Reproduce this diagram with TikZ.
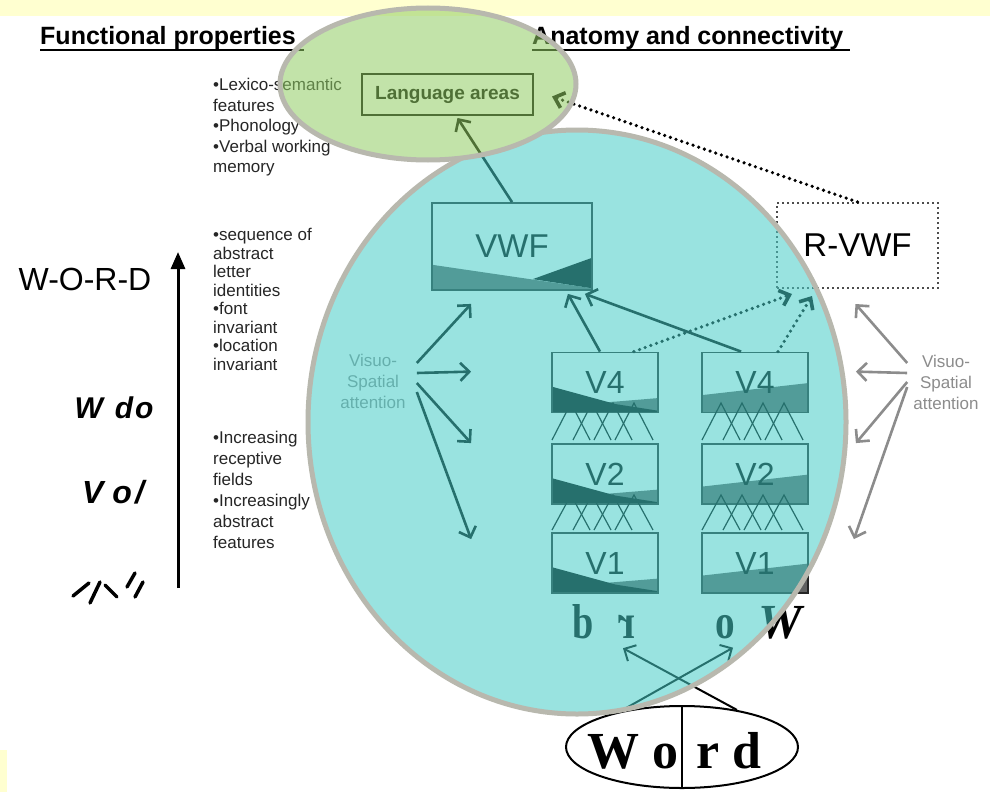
\documentclass[tikz,border=0pt]{standalone}
\usepackage{fontspec}
\usepackage{graphicx}
\usetikzlibrary{arrows.meta,shapes.geometric}
\setmainfont{Liberation Sans}
\newfontfamily\glyphfont{Liberation Serif}
\definecolor{bandyellow}{RGB}{255,255,208}
\definecolor{tealfill}{RGB}{70,205,200}
\definecolor{greenfill}{RGB}{145,205,100}
\definecolor{rimgray}{RGB}{184,184,174}
\newcommand{\fsz}[2]{\fontsize{#1}{#2}\selectfont}
% shaded bands at the foot of the area boxes (#1,#2 = top left corner)
\newcommand{\leftshading}[2]{%
  \begin{scope}[shift={(#1,#2)}, x=106pt, y=-60pt]
    \fill[black!62] (0.45,0.84) -- (1,0.76) -- (1,1) -- (0.45,1) -- cycle;
    \fill[black] (0,0.57) -- (0.6,0.86) -- (1,0.97) -- (1,1) -- (0,1) -- cycle;
  \end{scope}}
\newcommand{\rightshading}[2]{%
  \begin{scope}[shift={(#1,#2)}, x=106pt, y=-60pt]
    \fill[black!62] (0,0.71) -- (1,0.51) -- (1,1) -- (0,1) -- cycle;
  \end{scope}}
\newcommand{\vwfshading}[2]{%
  \begin{scope}[shift={(#1,#2)}, x=160pt, y=-87pt]
    \fill[black!62] (0,0.71) -- (1,0.98) -- (1,1) -- (0,1) -- cycle;
    \fill[black] (0.63,0.875) -- (1,0.63) -- (1,0.98) -- cycle;
  \end{scope}}

\tikzset{
  areabox/.style={draw=black!85, line width=1.8pt, minimum width=106pt, minimum height=60pt,
    inner sep=0pt, font=\fsz{32}{32}},
  note/.style={anchor=north west, align=left, inner sep=0pt, text=black!85},
  attn/.style={align=center, inner sep=0pt, font=\fsz{17}{21}, text=black!45},
  glyph/.style={inner sep=0pt, anchor=base, font=\glyphfont\bfseries\fsz{49}{49}},
  barb/.style={-{Straight Barb[length=9pt,width=18pt]}, line width=2.6pt},
  dotarrow/.style={-{Straight Barb[length=9pt,width=16pt]}, line width=3.6pt,
    dash pattern=on 0pt off 6pt, line cap=round},
}

\begin{document}
\begin{tikzpicture}[x=1pt, y=-1pt]
\fill[white] (0,0) rectangle (990,792);
\useasboundingbox (0,0) rectangle (990,792);
\fill[bandyellow] (0,0) rectangle (990,16);
\fill[bandyellow] (0,750) rectangle (7,792);

% Headings
\node[anchor=base west, inner sep=0pt, font=\bfseries\fsz{25}{25}] (hfun) at (40,45) {Functional properties};
\node[anchor=base west, inner sep=0pt, font=\bfseries\fsz{25}{25}] (hana) at (532,45) {Anatomy and connectivity};
\draw[line width=2pt] ([yshift=-5pt]hfun.base west) -- ([xshift=8pt,yshift=-5pt]hfun.base east);
\draw[line width=2pt] ([yshift=-5pt]hana.base west) -- ([xshift=6pt,yshift=-5pt]hana.base east);

% Left scale of letter shapes
\node[font=\fsz{32}{32}] (lword) at (85,279) {W-O-R-D};
\node[font=\bfseries\itshape\fsz{30}{30}] (lwdo) at (114,408) {W\hspace{12pt}d\hspace{2pt}o};
\node[font=\bfseries\itshape\fsz{32}{32}] (lvo) at (113,492) {V\hspace{9pt}o\hspace{3pt}/};
\foreach \xa/\ya/\xb/\yb in {73/596/89/583, 90/603/100/582, 105/585/117/597, 127/587/135/573, 135/597/143/582}
  \draw[line width=3.5pt, line cap=round] (\xa,\ya) -- (\xb,\yb);
\coordinate (scalelo) at (178,588);
\coordinate (scalehi) at (178,252);
\draw[-{Triangle[length=17pt,width=14pt]}, line width=3pt] (scalelo) -- (scalehi);

% Functional notes
\node[note, font=\fsz{17}{20.5}] (lexnote) at (213,78)
  {•Lexico-semantic\\features\\•Phonology\\•Verbal working\\memory};
\node[note, font=\fsz{17}{18.5}] (letnote) at (213,228)
  {•sequence of\\abstract\\letter\\identities\\•font\\invariant\\•location\\invariant};
\node[note, font=\fsz{17}{21}] (rfnote) at (213,431)
  {•Increasing\\receptive\\fields\\•Increasingly\\abstract\\features};

% Areas
\vwfshading{432}{203}
\leftshading{552}{352.5}
\leftshading{552}{444}
\leftshading{552}{533}
\rightshading{702}{352.5}
\rightshading{702}{444}
\rightshading{702}{533}
\node[draw=black, line width=2pt, minimum width=171pt, minimum height=41pt,
  font=\bfseries\fsz{19}{19}] (lang) at (447.5,94.5) {Language areas};
\node[areabox, minimum width=160pt, minimum height=87pt, font=\fsz{33}{33}] (vwf) at (512,246.5) {VWF};
\node[draw=black!70, line width=2pt, dash pattern=on 2pt off 3pt, minimum width=161pt,
  minimum height=85pt, font=\fsz{33}{33}] (rvwf) at (857.5,245.5) {R-VWF};
\node[areabox] (v4l) at (605,382.5) {V4};
\node[areabox] (v2l) at (605,474) {V2};
\node[areabox] (v1l) at (605,563) {V1};
\node[areabox] (v4r) at (755,382.5) {V4};
\node[areabox] (v2r) at (755,474) {V2};
\node[areabox] (v1r) at (755,563) {V1};

% Receptive field convergence
\foreach \bx in {552,702}
  \foreach \ya/\yb in {403/440,495/530}
    \foreach \i in {0,...,3}
      \draw[line width=1.2pt, black] (\bx+21*\i,\yb) -- (\bx+19+21*\i,\ya) -- (\bx+38+21*\i,\yb);

% Letters on the retina
\node[glyph] (gb) at (583,638) {\scalebox{0.78}[1]{b}};
\node[glyph] (gr) at (627,638) {\scalebox{0.8}[1]{\reflectbox{r}}};
\node[glyph] (go) at (725,638) {\scalebox{0.8}[1]{o}};
\node[glyph] (gw) at (780,638) {\itshape W};
\node[draw, ellipse, line width=2pt, minimum width=232pt, minimum height=82pt] (word) at (682,747) {};
\draw[line width=2pt] (word.north) -- (word.south);
\node[glyph, font=\glyphfont\bfseries\fsz{52}{52}, anchor=base east] (wlft) at (679,768) {W o};
\node[glyph, font=\glyphfont\bfseries\fsz{52}{52}, anchor=base west] (wrgt) at (696,768) {r d};
\draw[barb, line width=2pt] (word.150) -- ([xshift=8pt,yshift=-9pt]go.south);
\draw[barb, line width=2pt] (word.34) -- ([xshift=-4pt,yshift=-10pt]gr.south);

% Feed-forward connections
\draw[barb] (vwf.north) -- ([xshift=10pt,yshift=-2pt]lang.south);
\draw[barb] ([xshift=-5pt]v4l.north) -- ([xshift=-25pt,yshift=-3pt]vwf.south east);
\draw[barb] ([xshift=40pt]v4r.north west) -- ([xshift=-8pt,yshift=-3pt]vwf.south east);
\draw[dotarrow] ([xshift=-25pt]v4l.north east) -- ([xshift=16pt,yshift=-5pt]rvwf.south west);
\draw[dotarrow] ([xshift=23pt]v4r.north) -- ([xshift=36pt,yshift=-7pt]rvwf.south west);
\draw[dotarrow] (rvwf.north) -- ([xshift=18pt,yshift=-2pt]lang.east);

% Visuo-spatial attention, left
\node[attn] (attl) at (373,381) {Visuo-\\Spatial\\attention};
\draw[barb] ([xshift=11pt,yshift=18pt]attl.east) -- ([xshift=40pt,yshift=-13pt]vwf.south west);
\draw[barb] ([xshift=11pt,yshift=8pt]attl.east) -- ([xshift=-80pt,yshift=-20pt]v4l.north west);
\draw[barb] ([xshift=11pt,yshift=-2pt]attl.east) -- ([xshift=-80pt]v2l.north west);
\draw[barb] ([xshift=11pt,yshift=-11pt]attl.east) -- ([xshift=-80pt,yshift=-7pt]v1l.north west);

% Visuo-spatial attention, right
\node[attn] (attr) at (946,382) {Visuo-\\Spatial\\attention};
\draw[barb, black!45] ([xshift=-6pt,yshift=19pt]attr.west) -- ([xshift=-2pt,yshift=-15pt]rvwf.south);
\draw[barb, black!45] ([xshift=-6pt,yshift=9pt]attr.west) -- ([xshift=47pt,yshift=-20pt]v4r.north east);
\draw[barb, black!45] ([xshift=-6pt]attr.west) -- ([xshift=47pt]v2r.north east);
\draw[barb, black!45] ([xshift=-6pt,yshift=-5pt]attr.west) -- ([xshift=45pt,yshift=-7pt]v1r.north east);

% Highlight ellipses
\begin{scope}[even odd rule]
  \clip (-5,-5) rectangle (995,797) (428,84) ellipse [x radius=148, y radius=76];
  \draw[rimgray, line width=5pt, fill=tealfill, fill opacity=0.55] (577,422) ellipse [x radius=269, y radius=292];
\end{scope}
\draw[rimgray, line width=5pt, fill=greenfill, fill opacity=0.55] (428,84) ellipse [x radius=148, y radius=76];
\end{tikzpicture}
\end{document}
